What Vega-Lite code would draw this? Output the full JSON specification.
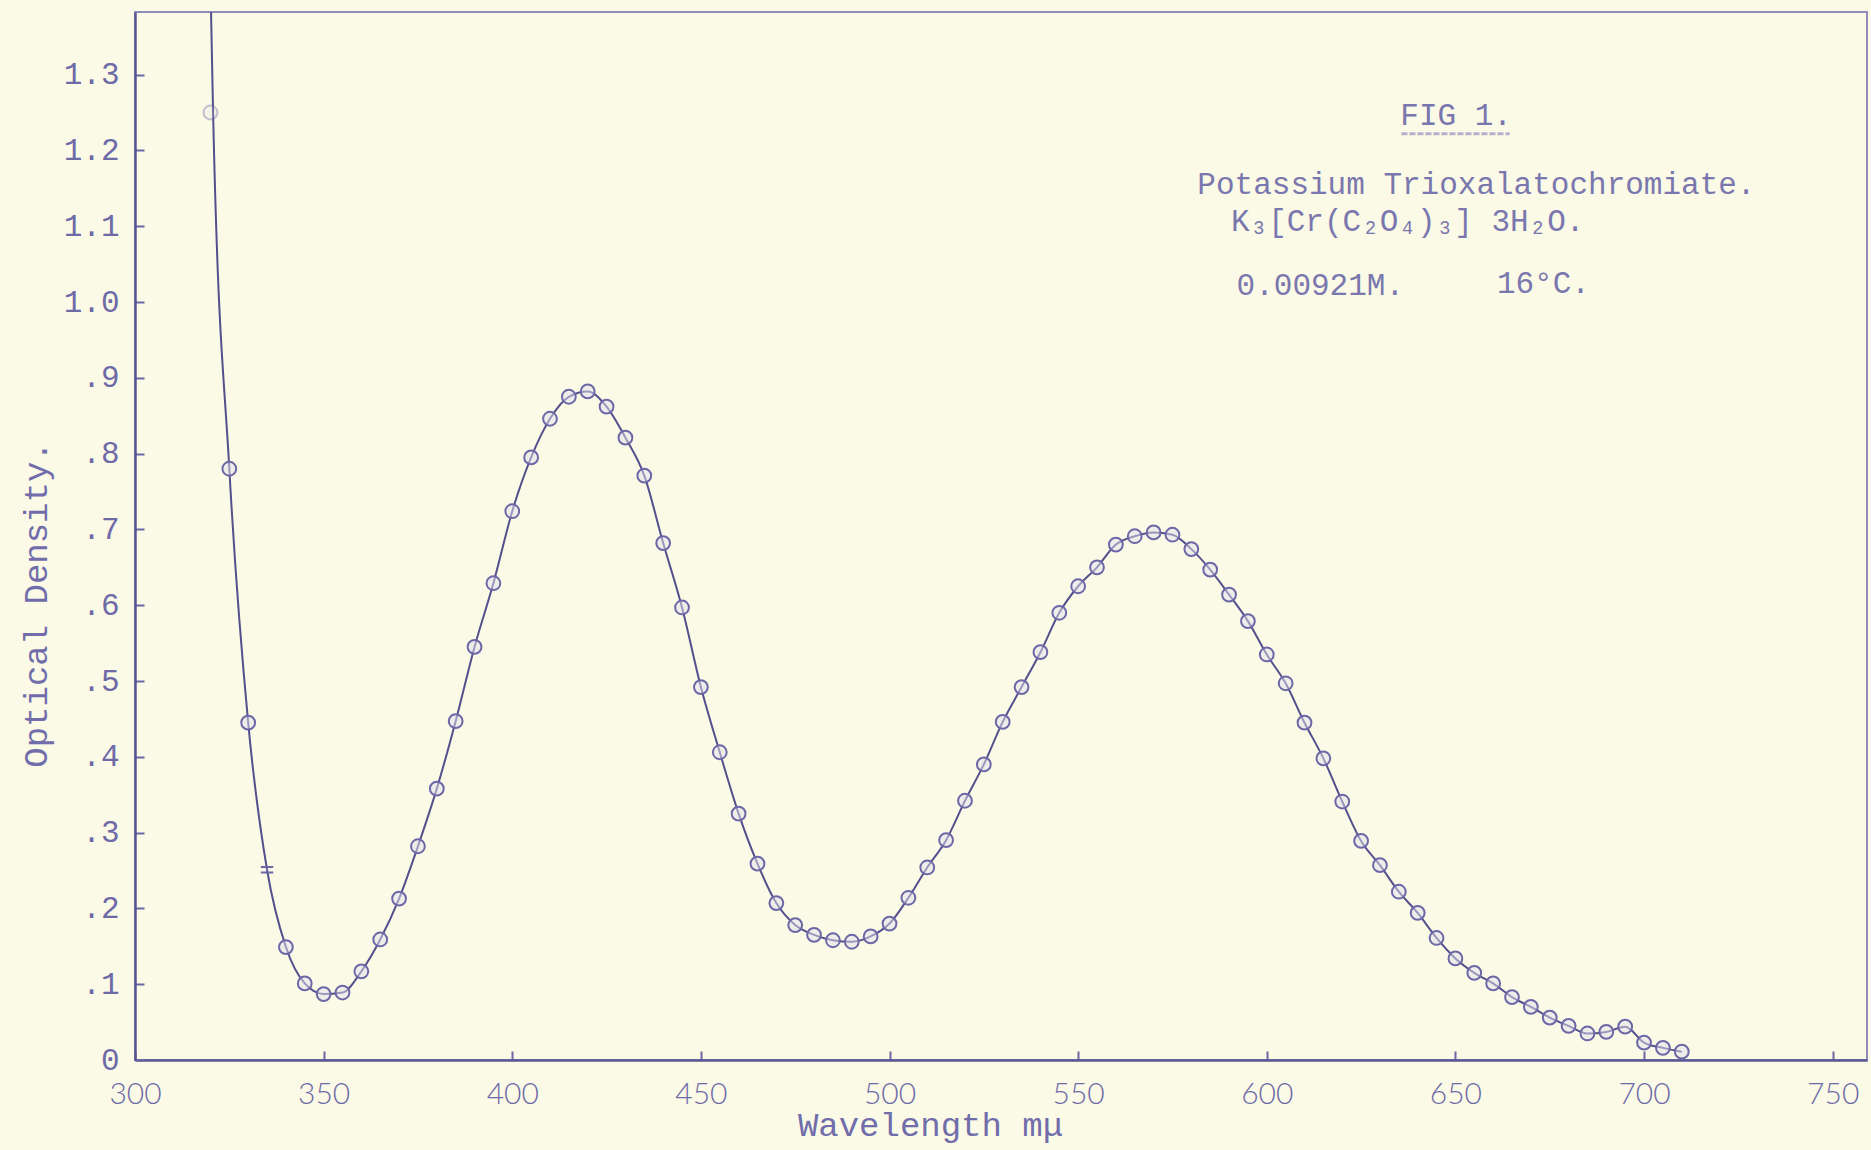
{
  "$schema": "https://vega.github.io/schema/vega-lite/v6.json",
  "width": 1732,
  "height": 1048,
  "autosize": {"type": "none"},
  "padding": {"left": 135, "top": 12, "right": 4, "bottom": 90},
  "background": "#fbfae6",
  "config": {
    "view": {"stroke": "#908dbb", "strokeWidth": 2},
    "font": "Liberation Mono"
  },
  "datasets": {
    "spectrum": [
      {"wavelength": 320.0, "density": 1.42, "marker": "trace"},
      {"wavelength": 320.7, "density": 1.25, "marker": "trace"},
      {"wavelength": 320, "density": 1.25, "marker": "ring"},
      {"wavelength": 325, "density": 0.78, "marker": "ring"},
      {"wavelength": 330, "density": 0.445, "marker": "ring"},
      {"wavelength": 335, "density": 0.251, "marker": "bar"},
      {"wavelength": 340, "density": 0.149, "marker": "ring"},
      {"wavelength": 345, "density": 0.101, "marker": "ring"},
      {"wavelength": 350, "density": 0.087, "marker": "ring"},
      {"wavelength": 355, "density": 0.089, "marker": "ring"},
      {"wavelength": 360, "density": 0.117, "marker": "ring"},
      {"wavelength": 365, "density": 0.159, "marker": "ring"},
      {"wavelength": 370, "density": 0.213, "marker": "ring"},
      {"wavelength": 375, "density": 0.282, "marker": "ring"},
      {"wavelength": 380, "density": 0.358, "marker": "ring"},
      {"wavelength": 385, "density": 0.447, "marker": "ring"},
      {"wavelength": 390, "density": 0.545, "marker": "ring"},
      {"wavelength": 395, "density": 0.629, "marker": "ring"},
      {"wavelength": 400, "density": 0.724, "marker": "ring"},
      {"wavelength": 405, "density": 0.795, "marker": "ring"},
      {"wavelength": 410, "density": 0.846, "marker": "ring"},
      {"wavelength": 415, "density": 0.875, "marker": "ring"},
      {"wavelength": 420, "density": 0.882, "marker": "ring"},
      {"wavelength": 425, "density": 0.862, "marker": "ring"},
      {"wavelength": 430, "density": 0.821, "marker": "ring"},
      {"wavelength": 435, "density": 0.771, "marker": "ring"},
      {"wavelength": 440, "density": 0.682, "marker": "ring"},
      {"wavelength": 445, "density": 0.597, "marker": "ring"},
      {"wavelength": 450, "density": 0.492, "marker": "ring"},
      {"wavelength": 455, "density": 0.406, "marker": "ring"},
      {"wavelength": 460, "density": 0.325, "marker": "ring"},
      {"wavelength": 465, "density": 0.259, "marker": "ring"},
      {"wavelength": 470, "density": 0.207, "marker": "ring"},
      {"wavelength": 475, "density": 0.178, "marker": "ring"},
      {"wavelength": 480, "density": 0.165, "marker": "ring"},
      {"wavelength": 485, "density": 0.158, "marker": "ring"},
      {"wavelength": 490, "density": 0.156, "marker": "ring"},
      {"wavelength": 495, "density": 0.163, "marker": "ring"},
      {"wavelength": 500, "density": 0.18, "marker": "ring"},
      {"wavelength": 505, "density": 0.214, "marker": "ring"},
      {"wavelength": 510, "density": 0.254, "marker": "ring"},
      {"wavelength": 515, "density": 0.29, "marker": "ring"},
      {"wavelength": 520, "density": 0.342, "marker": "ring"},
      {"wavelength": 525, "density": 0.39, "marker": "ring"},
      {"wavelength": 530, "density": 0.446, "marker": "ring"},
      {"wavelength": 535, "density": 0.492, "marker": "ring"},
      {"wavelength": 540, "density": 0.538, "marker": "ring"},
      {"wavelength": 545, "density": 0.59, "marker": "ring"},
      {"wavelength": 550, "density": 0.625, "marker": "ring"},
      {"wavelength": 555, "density": 0.65, "marker": "ring"},
      {"wavelength": 560, "density": 0.68, "marker": "ring"},
      {"wavelength": 565, "density": 0.691, "marker": "ring"},
      {"wavelength": 570, "density": 0.696, "marker": "ring"},
      {"wavelength": 575, "density": 0.693, "marker": "ring"},
      {"wavelength": 580, "density": 0.674, "marker": "ring"},
      {"wavelength": 585, "density": 0.647, "marker": "ring"},
      {"wavelength": 590, "density": 0.614, "marker": "ring"},
      {"wavelength": 595, "density": 0.579, "marker": "ring"},
      {"wavelength": 600, "density": 0.535, "marker": "ring"},
      {"wavelength": 605, "density": 0.497, "marker": "ring"},
      {"wavelength": 610, "density": 0.445, "marker": "ring"},
      {"wavelength": 615, "density": 0.398, "marker": "ring"},
      {"wavelength": 620, "density": 0.341, "marker": "ring"},
      {"wavelength": 625, "density": 0.289, "marker": "ring"},
      {"wavelength": 630, "density": 0.257, "marker": "ring"},
      {"wavelength": 635, "density": 0.222, "marker": "ring"},
      {"wavelength": 640, "density": 0.194, "marker": "ring"},
      {"wavelength": 645, "density": 0.161, "marker": "ring"},
      {"wavelength": 650, "density": 0.134, "marker": "ring"},
      {"wavelength": 655, "density": 0.115, "marker": "ring"},
      {"wavelength": 660, "density": 0.101, "marker": "ring"},
      {"wavelength": 665, "density": 0.083, "marker": "ring"},
      {"wavelength": 670, "density": 0.07, "marker": "ring"},
      {"wavelength": 675, "density": 0.056, "marker": "ring"},
      {"wavelength": 680, "density": 0.045, "marker": "ring"},
      {"wavelength": 685, "density": 0.035, "marker": "ring"},
      {"wavelength": 690, "density": 0.037, "marker": "ring"},
      {"wavelength": 695, "density": 0.044, "marker": "ring"},
      {"wavelength": 700, "density": 0.023, "marker": "ring"},
      {"wavelength": 705, "density": 0.016, "marker": "ring"},
      {"wavelength": 710, "density": 0.011, "marker": "ring"}
    ],
    "notes": [
      {"label": "FIG 1.", "wavelength": 635.4, "density": 1.245},
      {"label": "Potassium Trioxalatochromiate.", "wavelength": 581.6, "density": 1.154},
      {"label": "K₃[Cr(C₂O₄)₃] 3H₂O.", "wavelength": 590.5, "density": 1.106},
      {"label": "0.00921M.", "wavelength": 592, "density": 1.021},
      {"label": "16°C.", "wavelength": 661, "density": 1.024}
    ],
    "underline": [
      {"start": 635.7, "end": 664.4, "density": 1.222}
    ]
  },
  "layer": [
    {
      "data": {"name": "spectrum"},
      "transform": [
        {"filter": "datum.marker != 'ring' || datum.wavelength > 322"}
      ],
      "mark": {"type": "line", "interpolate": "monotone", "color": "#53508d", "strokeWidth": 2, "clip": true},
      "encoding": {
        "x": {
          "field": "wavelength",
          "type": "quantitative",
          "sort": null,
          "scale": {"domain": [300, 759.1], "nice": false, "zero": false},
          "axis": {
            "values": [300, 350, 400, 450, 500, 550, 600, 650, 700, 750],
            "grid": false,
            "title": "Wavelength  mμ",
            "titleFont": "Liberation Mono",
            "titleFontSize": 34,
            "titleFontWeight": "normal",
            "titleColor": "#716dab",
            "titleX": 795,
            "titleY": 65,
            "titleBaseline": "middle",
            "titleAlign": "center",
            "labelFont": "Lato",
            "labelFontWeight": 300,
            "labelFontSize": 30,
            "labelColor": "#6e6aa8",
            "labelPadding": 28,
            "labelFlush": false,
            "labelOverlap": false,
            "tickSize": -9,
            "tickWidth": 2,
            "tickColor": "#6a67a4",
            "domainColor": "#5a5796",
            "domainWidth": 2.5
          }
        },
        "y": {
          "field": "density",
          "type": "quantitative",
          "scale": {"domain": [0, 1.3826], "nice": false, "zero": true},
          "axis": {
            "values": [0, 0.1, 0.2, 0.3, 0.4, 0.5, 0.6, 0.7, 0.8, 0.9, 1.0, 1.1, 1.2, 1.3],
            "labelExpr": "datum.value == 0 ? '0' : datum.value >= 1 ? format(datum.value, '.1f') : replace(format(datum.value, '.1f'), '0.', '.')",
            "grid": false,
            "title": "Optical Density.",
            "titleFont": "Liberation Mono",
            "titleFontSize": 34,
            "titleFontWeight": "normal",
            "titleColor": "#716dab",
            "titleX": -99,
            "titleY": 592,
            "titleAngle": -90,
            "titleAlign": "center",
            "titleBaseline": "middle",
            "labelFont": "Liberation Mono",
            "labelFontSize": 31,
            "labelColor": "#6e6aa8",
            "labelPadding": 25,
            "labelFlush": false,
            "labelOverlap": false,
            "tickSize": -9,
            "tickWidth": 2,
            "tickColor": "#6a67a4",
            "domainColor": "#5a5796",
            "domainWidth": 2.5
          }
        }
      }
    },
    {
      "data": {"name": "spectrum"},
      "transform": [{"filter": "datum.marker != 'trace'"}],
      "mark": {"type": "point", "filled": true, "fill": "#e2e0ec", "fillOpacity": 0.5, "stroke": "#6c68a7", "strokeWidth": 2, "size": 190},
      "encoding": {
        "x": {"field": "wavelength", "type": "quantitative"},
        "y": {"field": "density", "type": "quantitative"},
        "shape": {
          "field": "marker",
          "type": "nominal",
          "scale": {"domain": ["ring", "bar"], "range": ["circle", "M-0.9,-0.4H0.9M-0.9,0.4H0.9M0,-0.4V0.4"]},
          "legend": null
        },
        "opacity": {"condition": {"test": "datum.wavelength < 322", "value": 0.4}, "value": 1}
      }
    },
    {
      "data": {"name": "underline"},
      "mark": {"type": "rule", "color": "#b4b2cf", "strokeWidth": 3, "strokeDash": [6, 2]},
      "encoding": {
        "x": {"field": "start", "type": "quantitative"},
        "x2": {"field": "end"},
        "y": {"field": "density", "type": "quantitative"}
      }
    },
    {
      "data": {"name": "notes"},
      "mark": {"type": "text", "align": "left", "baseline": "middle", "font": "Liberation Mono", "fontSize": 31, "color": "#7a77ae"},
      "encoding": {
        "x": {"field": "wavelength", "type": "quantitative"},
        "y": {"field": "density", "type": "quantitative"},
        "text": {"field": "label"}
      }
    }
  ]
}
